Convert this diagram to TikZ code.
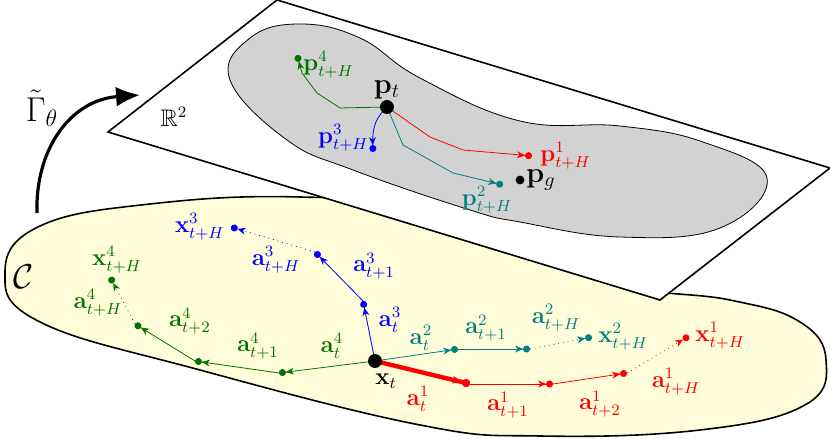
\documentclass[tikz,border=0pt]{standalone}
\usepackage{amsmath}
\usepackage{amssymb}
\usetikzlibrary{arrows.meta, calc, positioning}

\begin{document}
\begin{tikzpicture}[x=0.5bp, y=-0.5bp, >=Stealth]
	\tikzstyle{seg} = [thin, -{Stealth[length=4pt,width=3.5pt]Circle[length=3.5pt]}]
	\tikzstyle{lbl} = [inner sep=0pt, font=\large]
	\colorlet{cteal}{teal}
	\colorlet{cgreen}{green!45!black}

	\useasboundingbox (0,0) rectangle (830,439);

	% configuration space
	\draw[thick, fill=yellow!15] plot[smooth cycle, tension=0.7] coordinates {
		(5,272) (40,226) (150,204) (300,197) (450,212) (600,280) (730,300)
		(800,322) (826,360) (805,405) (700,430) (540,436) (420,425) (200,370) (40,322)};
	\node[lbl, font=\LARGE] (C) at (24,277) {$\mathcal{C}$};

	% trajectories in C
	\coordinate (x) at (375,361);
	\coordinate (r1) at (470,384); \coordinate (r2) at (553,384);
	\coordinate (r3) at (627,373); \coordinate (rH) at (689,336);
	\coordinate (t1) at (458,349); \coordinate (t2) at (530,349);
	\coordinate (tH) at (592,337);
	\coordinate (b1) at (363,301); \coordinate (b2) at (315,252);
	\coordinate (bH) at (231,227);
	\coordinate (g1) at (279,373); \coordinate (g2) at (195,361);
	\coordinate (g3) at (135,324); \coordinate (gH) at (110,277);

	\draw[red, line width=2.2pt, -{Stealth[length=5pt]Circle[length=4pt]}] (x) -- (r1);
	\draw[seg, red] (r1) -- (r2);
	\draw[seg, red] (r2) -- (r3);
	\draw[seg, red, dotted] (r3) -- (rH);
	\draw[seg, cteal] (x) -- (t1);
	\draw[seg, cteal] (t1) -- (t2);
	\draw[seg, cteal, dotted] (t2) -- (tH);
	\draw[seg, blue] (x) -- (b1);
	\draw[seg, blue] (b1) -- (b2);
	\draw[seg, blue, dotted] (b2) -- (bH);
	\draw[seg, cgreen] (x) -- (g1);
	\draw[seg, cgreen] (g1) -- (g2);
	\draw[seg, cgreen] (g2) -- (g3);
	\draw[seg, cgreen, dotted] (g3) -- (gH);
	\fill (x) circle (3.5pt);
	\node[lbl] (xl) at (386,381) {$\mathbf{x}_t$};

	\node[lbl, red] (la1) at (418,399) {$\mathbf{a}^1_t$};
	\node[lbl, red] (la2) at (508,405) {$\mathbf{a}^1_{t+1}$};
	\node[lbl, red] (la3) at (600,404) {$\mathbf{a}^1_{t+2}$};
	\node[lbl, red] (laH) at (676,382) {$\mathbf{a}^1_{t+H}$};
	\node[lbl, red, right=3pt of rH] (lxH) {$\mathbf{x}^1_{t+H}$};

	\node[lbl, cteal] (lt1) at (421,338) {$\mathbf{a}^2_t$};
	\node[lbl, cteal] (lt2) at (486,328) {$\mathbf{a}^2_{t+1}$};
	\node[lbl, cteal] (ltH) at (556,318) {$\mathbf{a}^2_{t+H}$};
	\node[lbl, cteal, right=3pt of tH] (ltx) {$\mathbf{x}^2_{t+H}$};

	\node[lbl, blue] (lb1) at (390,320) {$\mathbf{a}^3_t$};
	\node[lbl, blue] (lb2) at (374,266) {$\mathbf{a}^3_{t+1}$};
	\node[lbl, blue] (lbH) at (276,260) {$\mathbf{a}^3_{t+H}$};
	\node[lbl, blue, left=3pt of bH] (lbx) {$\mathbf{x}^3_{t+H}$};

	\node[lbl, cgreen] (lg1) at (332,346) {$\mathbf{a}^4_t$};
	\node[lbl, cgreen] (lg2) at (258,346) {$\mathbf{a}^4_{t+1}$};
	\node[lbl, cgreen] (lg3) at (190,321) {$\mathbf{a}^4_{t+2}$};
	\node[lbl, cgreen] (lgH) at (98,303) {$\mathbf{a}^4_{t+H}$};
	\node[lbl, cgreen] (lgx) at (117,260) {$\mathbf{x}^4_{t+H}$};

	% workspace plane
	\draw[thick, fill=white] (108,132) -- (277,0) -- (830,168) -- (660,300) -- cycle;
	\node[lbl] (R) at (174,117) {$\mathbb{R}^2$};
	\draw[thin, fill=gray!35] plot[smooth cycle, tension=0.7] coordinates {
		(230,80) (250,38) (300,24) (360,38) (420,78) (520,121) (620,126)
		(703,142) (767,178) (720,228) (620,237) (520,222) (470,210)
		(353,170) (287,140)};

	\coordinate (p) at (387,107);
	\coordinate (pg) at (520,180);
	\draw[seg, cgreen] (p) -- (340,108) -- (317,93) -- (302,73) -- (297,55) coordinate (p4);
	\draw[seg, blue] (p) .. controls (377,117) and (372,125) .. (373,152) coordinate (p3);
	\draw[seg, red] (p) -- (430,137) -- (463,150) -- (532,156) coordinate (p1);
	\draw[seg, cteal] (p) -- (403,145) -- (453,173) -- (503,185) coordinate (p2);
	\fill (p) circle (3.5pt);
	\fill (pg) circle (2.2pt);
	\node[lbl, font=\Large, above=4pt of p] (lp) {$\mathbf{p}_t$};
	\node[lbl, font=\Large, right=3pt of pg] (lpg) {$\mathbf{p}_g$};
	\node[lbl, red, right=4pt of p1] (lp1) {$\mathbf{p}^1_{t+H}$};
	\node[lbl, cteal] (lp2) at (487,200) {$\mathbf{p}^2_{t+H}$};
	\node[lbl, blue, left=2pt of p3, yshift=7pt] (lp3) {$\mathbf{p}^3_{t+H}$};
	\node[lbl, cgreen, right=3pt of p4, yshift=-5pt] (lp4) {$\mathbf{p}^4_{t+H}$};

	% mapping
	\coordinate (m0) at (37,213);
	\coordinate (m1) at (140,95);
	\draw[line width=1.6pt, -{Latex[length=12pt,width=10pt]}] (m0) .. controls (35,150) and (70,100) .. (m1);
	\node[lbl, font=\LARGE] (G) at (42,108) {$\tilde{\Gamma}_\theta$};
\end{tikzpicture}
\end{document}
